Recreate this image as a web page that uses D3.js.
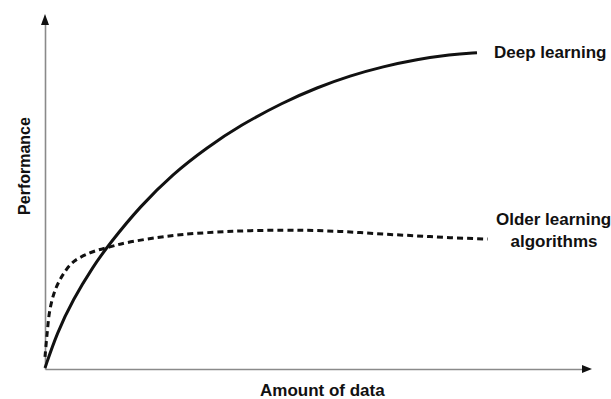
<!DOCTYPE html>
<html><head><meta charset="utf-8">
<script src="https://cdn.jsdelivr.net/npm/d3@7"></script>
<style>body{margin:0;background:#fff}svg{display:block}text{font-family:"Liberation Sans",Arial,sans-serif;font-weight:bold;fill:#111}</style>
</head><body><svg id="c" width="611" height="399"></svg>
<script>
// Amount of data (arbitrary units 0-100) and performance (0-100)
const deepX = [0, 2.2, 5.2, 8.9, 12.0, 17.6, 23.7, 30.0, 36.1, 44.1, 50.4, 56.5, 62.6, 68.9, 75.0, 80.0];
const deepY = [0.3, 10.1, 19.6, 28.9, 35.4, 45.8, 55.0, 62.4, 68.6, 75.1, 79.3, 82.6, 85.2, 87.2, 88.6, 89.1];
const oldX = [0, 0.4, 0.9, 1.9, 3.3, 5.2, 8.3, 12.0, 15.2, 20.7, 25.6, 34.8, 44.1, 50.4, 56.5, 62.6, 68.9, 75.0, 82.0];
const oldY = [3.4, 10.1, 16.6, 22.3, 26.5, 30.1, 32.7, 34.4, 35.6, 37.0, 37.9, 38.8, 39.1, 39.0, 38.6, 38.0, 37.5, 37.0, 36.6];
const seriesLabels = ["Deep learning", ["Older learning", "algorithms"]];
const axisLabels = {x: "Amount of data", y: "Performance"};

const svg = d3.select("#c");
const x = d3.scaleLinear().domain([0, 100]).range([45, 585]);
const y = d3.scaleLinear().domain([0, 100]).range([369, 14]);

// axes (no ticks)
const xAxis = d3.axisBottom(d3.scaleLinear().domain([0, 1]).range([45, 585])).tickValues([]).tickSizeOuter(0);
const yAxis = d3.axisLeft(d3.scaleLinear().domain([0, 1]).range([369, 22])).tickValues([]).tickSizeOuter(0);
svg.append("g").attr("transform", "translate(0,369)").call(xAxis)
  .select(".domain").attr("stroke", "#8a8a8a").attr("stroke-width", 1.6);
svg.append("g").attr("transform", "translate(45,0)").call(yAxis)
  .select(".domain").attr("stroke", "#8a8a8a").attr("stroke-width", 1.6);
// arrowheads
svg.append("path").attr("d", "M592,369 L582,365 L582,373 Z").attr("fill", "#111");
svg.append("path").attr("d", "M45,14 L41,25 L49,25 Z").attr("fill", "#111");

const line = (xs, ys, curve) => d3.line().x((d, i) => x(xs[i])).y((d, i) => y(ys[i])).curve(curve)(xs);

svg.append("path").attr("d", line(oldX, oldY, d3.curveCatmullRom.alpha(0.5))).attr("fill", "none")
  .attr("stroke", "#111").attr("stroke-width", 3).attr("stroke-dasharray", "6,4");
svg.append("path").attr("d", line(deepX, deepY, d3.curveBasis)).attr("fill", "none")
  .attr("stroke", "#111").attr("stroke-width", 3);

svg.append("text").attr("x", 494).attr("y", 58).attr("font-size", 17).text(seriesLabels[0]);
svg.append("text").attr("x", 496).attr("y", 225).attr("font-size", 17).text(seriesLabels[1][0]);
svg.append("text").attr("x", 554).attr("y", 247).attr("font-size", 17).attr("text-anchor", "middle").text(seriesLabels[1][1]);
svg.append("text").attr("x", 260).attr("y", 396).attr("font-size", 17).text(axisLabels.x);
svg.append("text").attr("transform", "translate(30,166) rotate(-90)").attr("text-anchor", "middle")
  .attr("font-size", 16).text(axisLabels.y);
</script></body></html>
